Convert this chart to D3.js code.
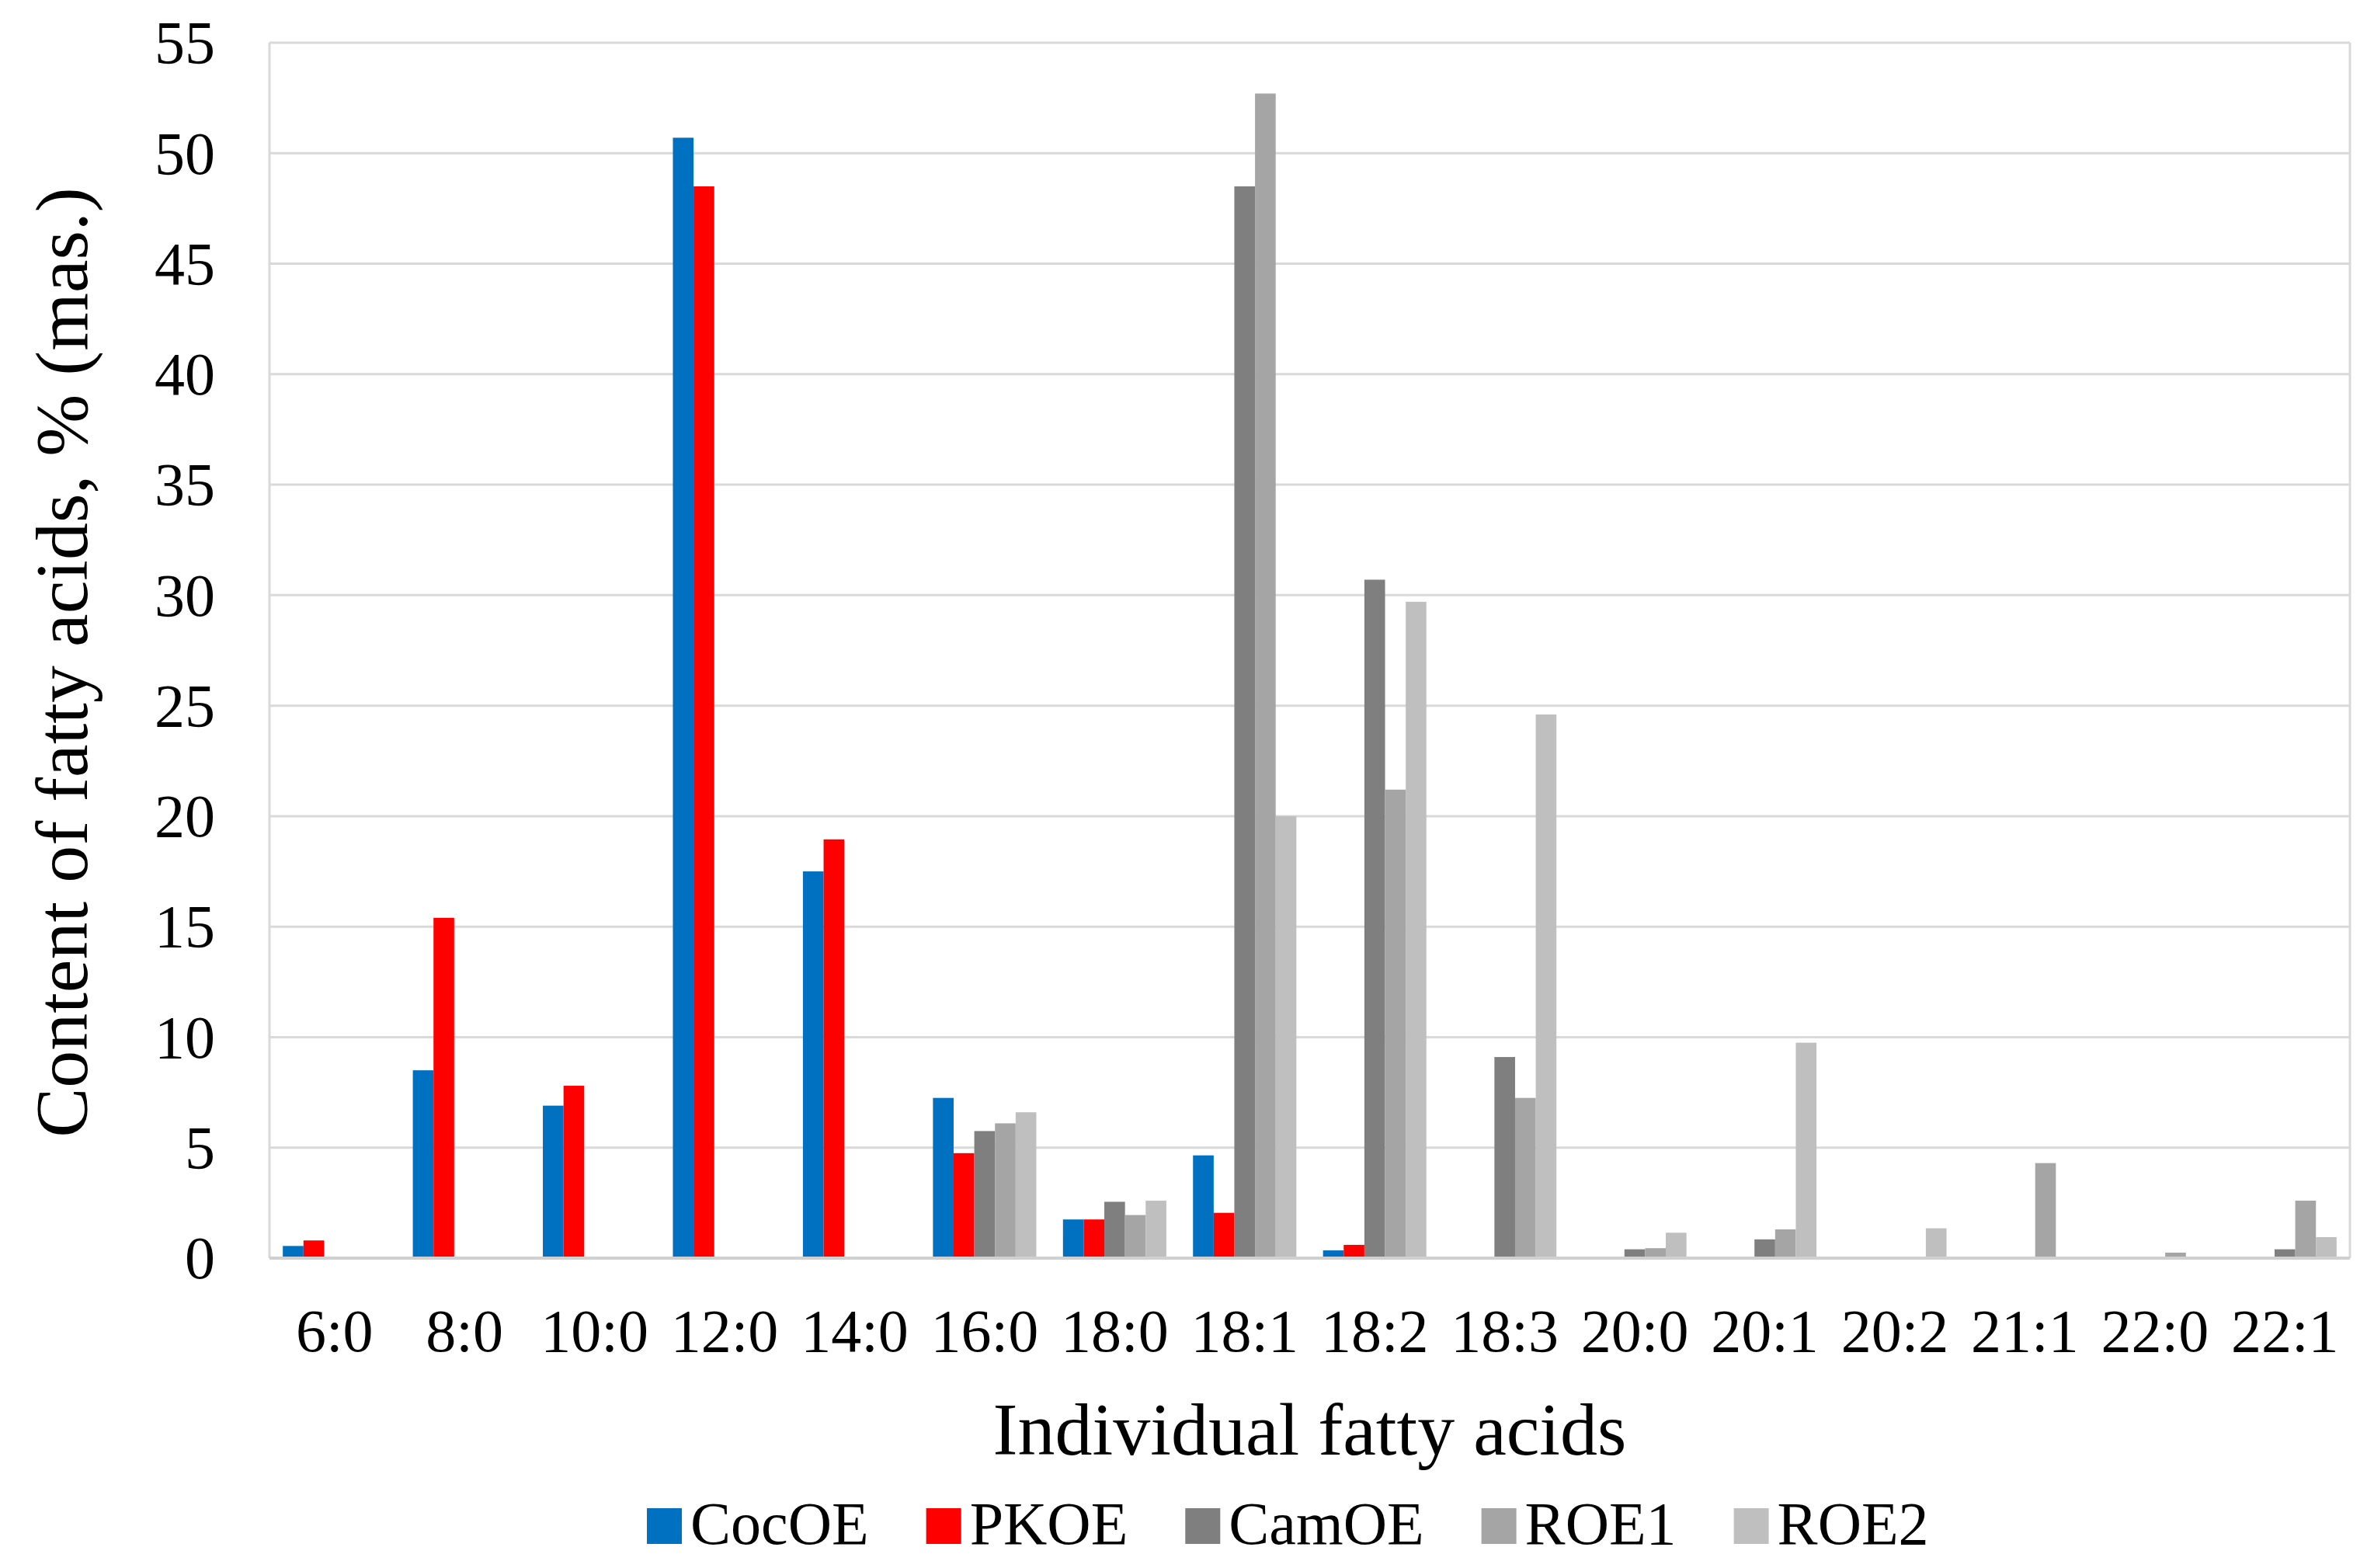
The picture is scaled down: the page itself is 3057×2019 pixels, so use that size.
<!DOCTYPE html>
<html>
<head>
<meta charset="utf-8">
<script src="https://cdn.jsdelivr.net/npm/d3@7"></script>
<style>
    body { margin: 0; background: #ffffff; }
    svg { display: block; }
    text { font-family: "Liberation Serif", "Times New Roman", serif; fill: #000000; }
</style>
</head>
<body>
<div id="canvas"></div>
<script>
// fatty acids on the x axis
var categories = ["6:0", "8:0", "10:0", "12:0", "14:0", "16:0", "18:0", "18:1",
                  "18:2", "18:3", "20:0", "20:1", "20:2", "21:1", "22:0", "22:1"];

var seriesNames = ["CocOE", "PKOE", "CamOE", "ROE1", "ROE2"];
var seriesColors = ["#0070C0", "#FF0000", "#7F7F7F", "#A5A5A5", "#BFBFBF"];

// % (mas.) per fatty acid
var cocOE = [0.55, 8.5, 6.9, 50.7, 17.5, 7.25, 1.75, 4.65, 0.35, 0, 0, 0, 0, 0, 0, 0];
var pkOE  = [0.8, 15.4, 7.8, 48.5, 18.95, 4.75, 1.75, 2.05, 0.6, 0, 0, 0, 0, 0, 0, 0];
var camOE = [0, 0, 0, 0, 0, 5.75, 2.55, 48.5, 30.7, 9.1, 0.4, 0.85, 0, 0, 0, 0.4];
var roe1  = [0, 0, 0, 0, 0, 6.1, 1.95, 52.7, 21.2, 7.25, 0.45, 1.3, 0, 4.3, 0.25, 2.6];
var roe2  = [0, 0, 0, 0, 0, 6.6, 2.6, 20.0, 29.7, 24.6, 1.15, 9.75, 1.35, 0, 0, 0.95];

var yTicks = [0, 5, 10, 15, 20, 25, 30, 35, 40, 45, 50, 55];

var xTitle = "Individual fatty acids";
var yTitle = "Content of fatty acids, % (mas.)";

var width = 3057, height = 2019;
var plot = {left: 347, right: 3026, top: 55, bottom: 1620};
var gridColor = "#D9D9D9";

var values = [cocOE, pkOE, camOE, roe1, roe2];

var svg = d3.select("#canvas").append("svg")
    .attr("width", width)
    .attr("height", height);

var x0 = d3.scaleBand()
    .domain(categories)
    .range([plot.left, plot.right])
    .paddingInner(0.205)
    .paddingOuter(0.1025);

var x1 = d3.scaleBand()
    .domain(seriesNames)
    .range([0, x0.bandwidth()]);

var y = d3.scaleLinear()
    .domain([0, 55])
    .range([plot.bottom, plot.top]);

// gridlines
svg.append("g").selectAll("line.grid")
    .data(yTicks.filter(function(d){ return d > 0; }))
    .enter().append("line")
    .attr("class", "grid")
    .attr("x1", plot.left)
    .attr("x2", plot.right)
    .attr("y1", function(d){ return y(d); })
    .attr("y2", function(d){ return y(d); })
    .style("stroke", gridColor)
    .style("stroke-width", 3);

// plot border left / right
svg.append("line")
    .attr("x1", plot.left).attr("x2", plot.left)
    .attr("y1", plot.top).attr("y2", plot.bottom)
    .style("stroke", gridColor).style("stroke-width", 3);
svg.append("line")
    .attr("x1", plot.right).attr("x2", plot.right)
    .attr("y1", plot.top).attr("y2", plot.bottom)
    .style("stroke", gridColor).style("stroke-width", 3);

// bars
var groups = svg.append("g").selectAll("g.group")
    .data(categories)
    .enter().append("g")
    .attr("class", "group")
    .attr("transform", function(d){ return "translate(" + x0(d) + ",0)"; });

groups.selectAll("rect")
    .data(function(d, i){
        return seriesNames.map(function(s, k){
            return {series: s, value: values[k][i], color: seriesColors[k]};
        }).filter(function(e){ return e.value > 0; });
    })
    .enter().append("rect")
    .attr("x", function(d){ return x1(d.series); })
    .attr("width", x1.bandwidth())
    .attr("y", function(d){ return y(d.value); })
    .attr("height", function(d){ return y(0) - y(d.value); })
    .style("fill", function(d){ return d.color; });

// baseline
svg.append("line")
    .attr("x1", plot.left).attr("x2", plot.right)
    .attr("y1", y(0)).attr("y2", y(0))
    .style("stroke", "#D0D0D0")
    .style("stroke-width", 4);

// y axis labels
var yAxis = svg.append("g")
    .attr("transform", "translate(" + plot.left + ",0)")
    .call(d3.axisLeft(y).tickValues(yTicks).tickSize(0).tickPadding(70));
yAxis.select(".domain").remove();
yAxis.attr("font-family", null).attr("font-size", null);
yAxis.selectAll("text")
    .style("font-size", "78px")
    .attr("dy", "0.33em");

// x axis labels
var xAxis = svg.append("g")
    .attr("transform", "translate(0," + plot.bottom + ")")
    .call(d3.axisBottom(x0).tickSize(0));
xAxis.select(".domain").remove();
xAxis.attr("font-family", null).attr("font-size", null);
xAxis.selectAll("text")
    .style("font-size", "78px")
    .attr("y", 120)
    .attr("dy", 0);

// axis titles
svg.append("text")
    .text(xTitle)
    .attr("x", (plot.left + plot.right) / 2)
    .attr("y", 1873)
    .attr("text-anchor", "middle")
    .style("font-size", "96px");

svg.append("text")
    .text(yTitle)
    .attr("transform", "translate(112,853) rotate(-90)")
    .attr("text-anchor", "middle")
    .style("font-size", "96px");

// legend
var legend = svg.append("g").attr("class", "legend");
var lx = 833;
seriesNames.forEach(function(name, k){
    legend.append("rect")
        .attr("x", lx)
        .attr("y", 1942)
        .attr("width", 45)
        .attr("height", 46)
        .style("fill", seriesColors[k]);
    var t = legend.append("text")
        .text(name)
        .attr("x", lx + 56)
        .attr("y", 1988)
        .style("font-size", "78px");
    lx = lx + 56 + t.node().getComputedTextLength() + 74;
});
</script>
</body>
</html>
